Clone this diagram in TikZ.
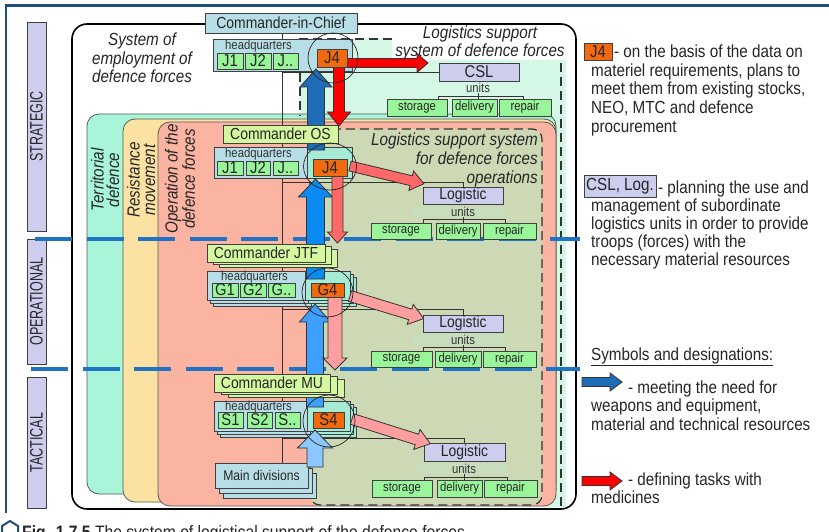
\documentclass[tikz,border=0pt]{standalone}
\usepackage{fontspec}
\setmainfont[FakeStretch=0.87]{Liberation Sans}
\usetikzlibrary{calc}
\definecolor{frameblue}{HTML}{1F4E79}
\definecolor{lvl}{HTML}{CDCDEE}
\definecolor{ltblue}{HTML}{B7DEE6}
\definecolor{jgreen}{HTML}{99F599}
\definecolor{orng}{HTML}{F26A10}
\definecolor{cmdgreen}{HTML}{D3F8A0}
\definecolor{palemint}{HTML}{D4F7E6}
\definecolor{terr}{HTML}{A8F5D9}
\definecolor{resist}{HTML}{FBE2A3}
\definecolor{oper}{HTML}{FBB4A2}
\definecolor{olivebg}{HTML}{CDD8B4}
\definecolor{unitstrip}{HTML}{C6DDBE}
\definecolor{hqmint}{HTML}{A6EBD6}
\definecolor{dashblue}{HTML}{1F72C4}
\definecolor{arA}{HTML}{1F6DB6}
\definecolor{arB}{HTML}{0B8AF2}
\definecolor{arC}{HTML}{3DA0FF}
\definecolor{arD}{HTML}{8AC8FF}
\definecolor{rdA}{HTML}{FF0000}
\definecolor{rdB}{HTML}{FF6868}
\definecolor{rdC}{HTML}{FF9E9E}
\newcommand\fsz[2]{\fontsize{#1}{#2}\selectfont}
\newcommand\mybox[7]{\node[bx,#2,minimum width={(#5)-(#3)},minimum height={(#6)-(#4)}] (#1) at ({((#3)+(#5))/2},{((#4)+(#6))/2}) {#7};}
\newcommand\mystack[9]{%
 \mybox{#1b}{#2}{#3+2*#8}{#4+2*#9}{#5+2*#8}{#6+2*#9}{}%
 \mybox{#1a}{#2}{#3+#8}{#4+#9}{#5+#8}{#6+#9}{}%
 \mybox{#1}{#2}{#3}{#4}{#5}{#6}{#7}}
\newcommand\blockarr[7]{%
 \begin{scope}[shift={#2},rotate=#3]
 \filldraw[#1] (0,-#5) -- ({#4-#7},-#5) -- ({#4-#7},-#6) -- (#4,0) -- ({#4-#7},#6) -- ({#4-#7},#5) -- (0,#5) -- cycle;
 \end{scope}}
\tikzset{
 bx/.style={draw=black!75, line width=0.7pt, inner sep=0pt, outer sep=0pt, text=black!85},
 cmd/.style={bx, fill=cmdgreen, font=\fsz{16}{16}},
 hqb/.style={bx, fill=ltblue},
 hqm/.style={bx, fill=hqmint},
 jb/.style={bx, fill=jgreen, font=\fsz{17}{17}},
 jf/.style={bx, fill=orng, font=\fsz{17}{17}},
 ub/.style={bx, fill=jgreen, font=\fsz{13}{13}},
 lg/.style={bx, fill=lvl, font=\fsz{16}{16}},
 lvbox/.style={bx, fill=lvl},
 lvtxt/.style={rotate=90, font=\fsz{18}{18}, text=black!85},
 panel/.style={draw=black!65, line width=0.8pt, rounded corners=12pt},
 ptxt/.style={rotate=90, font=\itshape\fsz{17.5}{15.5}, align=center, text=black!85, inner sep=0pt},
 itx/.style={font=\itshape\fsz{17.5}{18}, anchor=base, inner sep=0pt, text=black!85},
 itxr/.style={font=\itshape\fsz{17.5}{18}, anchor=base east, inner sep=0pt, text=black!85},
 lgnd/.style={anchor=base west, inner sep=0pt, font=\fsz{17.5}{18}, text=black!85},
 hqt/.style={anchor=base west, inner sep=0pt, font=\fsz{13}{13}, text=black!80},
 untx/.style={inner sep=0pt, font=\fsz{13}{13}, text=black!80},
 org/.style={draw=black!80, line width=0.8pt},
 lsdash/.style={draw=black!80, line width=1.2pt, dash pattern=on 9pt off 5pt},
 lvdash/.style={draw=dashblue, line width=4pt, dash pattern=on 37pt off 14.5pt},
 arr/.style={draw=black!80, line width=0.8pt},
 circ/.style={draw=black!85, line width=0.7pt},
}
\begin{document}
\begin{tikzpicture}[x=1pt,y=-1pt]
\clip (0,0) rectangle (829,532);
\fill[white] (0,0) rectangle (829,532);
% outer frame
\draw[frameblue, line width=2.5pt] (6,513) -- (6,5.5) -- (830,5.5);
% level labels
\mybox{lvS}{lvbox}{27}{22}{46}{231}{}
\mybox{lvO}{lvbox}{27}{239}{46}{364}{}
\mybox{lvT}{lvbox}{27}{377}{46}{508}{}
\node[lvtxt] (tS) at (lvS.center) {\scalebox{0.8}[1]{STRATEGIC}};
\node[lvtxt] (tO) at (lvO.center) {\scalebox{0.8}[1]{OPERATIONAL}};
\node[lvtxt] (tT) at (lvT.center) {\scalebox{0.8}[1]{TACTICAL}};
% big system rectangle
\draw[black, line width=1.6pt, fill=white, rounded corners=15pt] (72,24) rectangle (576,509);
% logistics support system (pale mint)
\fill[palemint] (300,39) -- (392,39) -- (392,60) -- (566,60) -- (566,507) -- (300,507) -- cycle;
% panels
\filldraw[panel, fill=terr] (87,114) rectangle (556,494);
\filldraw[panel, fill=resist] (123,119) rectangle (556,502);
\filldraw[panel, fill=oper] (158,122) rectangle (556,506);
% olive region
\fill[olivebg, rounded corners=10pt] (310,129) rectangle (542,505);
\draw[lsdash, rounded corners=10pt] (310,129) rectangle (542,505);
\draw[lsdash] (392,39) -- (300,39) -- (300,116);
\draw[lsdash] (561,63) -- (561,507);
% texts of regions
\node[itx] (s1) at (142,46) {System of};
\node[itx] (s2) at (142,64.5) {employment of};
\node[itx] (s3) at (142,83) {defence forces};
\node[itx] (l1) at (480,38.5) {Logistics support};
\node[itx] (l2) at (480,57) {system of defence forces};
\node[itxr] (o1) at (538,146) {Logistics support system};
\node[itxr] (o2) at (538,164.5) {for defence forces};
\node[itxr] (o3) at (538,183) {operations};
\node[ptxt] (pT) at (105,180) {Territorial\\defence};
\node[ptxt] (pR) at (141,180) {Resistance\\movement};
\node[ptxt] (pO) at (180,179) {Operation of the\\defence forces};
% level dashed lines
\draw[lvdash] (35,239) -- (580,239);
\draw[lvdash] (31,369) -- (580,369);
% org vertical line and connectors
\coordinate (vtop) at (282,33);
\coordinate (vbot) at (282,463);
\draw[org] (vtop) -- (vbot);
% strategic logistics
\mybox{csl}{lg}{439}{63}{519}{81}{\fsz{17}{17}CSL}
\draw[org] (282,72) -- (csl.west);
\node[untx] (u0) at (478,87.5) {units};
\draw[org] (478,93) -- (478,99) (438,99) -- (438,96) -- (523,96) -- (523,99);
\mybox{st0}{ub}{387}{99}{447}{116}{storage}
\mybox{de0}{ub}{452}{99}{497}{116}{delivery}
\mybox{re0}{ub}{499}{99}{551}{116}{repair}
% OS logistics
\mybox{log1}{lg}{423}{187}{503}{204}{Logistic}
\draw[org] (282,182) -| (log1.north);
\fill[unitstrip] (413,207) rectangle (505,217);
\node[untx] (u1) at (463,212) {units};
\draw[org] (463,217) -- (463,223) (423,223) -- (423,219) -- (505,219) -- (505,223);
\mybox{st1}{ub}{371}{223}{431}{239}{storage}
\mybox{de1}{ub}{436}{223}{480}{239}{delivery}
\mybox{re1}{ub}{483}{223}{536}{239}{repair}
% JTF logistics
\mybox{log2}{lg}{423}{315}{503}{332}{Logistic}
\draw[org] (282,309) -| (log2.north);
\fill[unitstrip] (413,334) rectangle (505,345);
\node[untx] (u2) at (463,339.5) {units};
\draw[org] (463,345) -- (463,351) (423,351) -- (423,347) -- (505,347) -- (505,351);
\mybox{st2}{ub}{371}{351}{432}{367}{storage}
\mybox{de2}{ub}{435}{351}{481}{367}{delivery}
\mybox{re2}{ub}{483}{351}{536}{367}{repair}
% MU logistics
\mybox{log3}{lg}{424}{443}{505}{461}{Logistic}
\draw[org] (282,438) -| (log3.north);
\fill[unitstrip] (415,463) rectangle (507,474);
\node[untx] (u3) at (464,468.5) {units};
\draw[org] (464,474) -- (464,480) (424,480) -- (424,477) -- (507,477) -- (507,480);
\mybox{st3}{ub}{372}{480}{432}{497}{storage}
\mybox{de3}{ub}{437}{480}{482}{497}{delivery}
\mybox{re3}{ub}{484}{480}{537}{497}{repair}
% ---------- strategic level
\mybox{cinc}{bx,fill=ltblue,font=\fsz{16}{16}}{205}{13}{357}{33}{Commander-in-Chief}
\mybox{hq0}{hqb}{213}{39}{352}{71}{}
\node[hqt] (h0) at (225,50) {headquarters};
\mybox{j01}{jb}{217}{53}{243}{69}{J1}
\mybox{j02}{jb}{245}{53}{271}{69}{J2}
\mybox{j03}{jb}{273}{53}{298}{69}{J..}
% ---------- OS level hq
\mybox{hq1}{hqb}{214}{147}{352}{178}{}
\mybox{hq1m}{hqm}{307}{147}{352}{178}{}
\node[hqt] (h1) at (225,157.5) {headquarters};
\mybox{j11}{jb}{217}{161}{243}{175}{J1}
\mybox{j12}{jb}{246}{161}{270}{175}{J2}
\mybox{j13}{jb}{273}{161}{298}{175}{J..}
% arrows strategic
\blockarr{arr,fill=arA}{(316,150)}{90}{81}{8.5}{16}{18}
\blockarr{arr,fill=rdA}{(339,63)}{-90}{63}{5.5}{11.5}{14}
\blockarr{arr,fill=rdA}{(345,63)}{0}{83}{4.5}{9.5}{11}
\mybox{j04}{jf}{317}{49}{347}{67}{J4}
\mybox{cmdOS}{cmd}{223}{125}{338}{143}{Commander OS}
% ---------- JTF level hq
\mystack{hq2}{hqb}{207}{271}{350}{300}{}{3}{3}
\mystack{hq2m}{hqm}{305}{271}{350}{300}{}{3}{3}
\node[hqt] (h2) at (221,280.5) {headquarters};
\mybox{g21}{jb}{212}{283}{238}{297}{G1}
\mybox{g22}{jb}{240}{283}{266}{297}{G2}
\mybox{g23}{jb}{268}{283}{295}{297}{G..}
\blockarr{arr,fill=arB}{(315.5,279)}{90}{100}{9}{17}{18}
\blockarr{arr,fill=rdB}{(337.5,176)}{-90}{67}{5.5}{10}{11}
\blockarr{arr,fill=rdB}{(350,166)}{-13.5}{76}{5}{10}{13}
\mybox{j14}{jf}{313}{159}{347}{176}{J4}
\mystack{cmdJTF}{cmd}{207}{244}{325}{262}{Commander JTF}{6}{2.5}
% ---------- MU level hq
\mystack{hq3}{hqb}{214}{401}{350}{431}{}{3}{3}
\mystack{hq3m}{hqm}{307}{401}{350}{431}{}{3}{3}
\node[hqt] (h3) at (225,410.5) {headquarters};
\mybox{s31}{jb}{218}{412}{243}{428}{S1}
\mybox{s32}{jb}{247}{412}{272}{428}{S2}
\mybox{s33}{jb}{275}{412}{300}{428}{S..}
\blockarr{arr,fill=arC}{(315,407)}{90}{103}{8.5}{15.5}{18}
\blockarr{arr,fill=rdC}{(335,297)}{-90}{73}{7}{12}{12}
\blockarr{arr,fill=rdC}{(350,296)}{-17}{77}{5.5}{10.5}{14}
\mybox{g24}{jf}{311}{283}{344}{297}{G4}
\mystack{cmdMU}{cmd}{214}{374}{330}{392}{Commander MU}{7}{2.5}
% ---------- main divisions
\mystack{mdiv}{hqb,font=\fsz{14}{14}}{215}{463}{308}{488}{Main divisions}{4}{5}
\blockarr{arr,fill=arD}{(315,467)}{90}{37}{8}{17.5}{18}
\blockarr{arr,fill=rdC}{(352,419)}{-17.5}{82}{5.5}{10.5}{14}
\mybox{s34}{jf}{313}{412}{344}{428}{S4}
% circles
\draw[circ] (333,58) ellipse [x radius=25pt, y radius=25pt];
\draw[circ] (330,166.5) ellipse [x radius=26.5pt, y radius=23.5pt];
\draw[circ] (327.5,292.5) ellipse [x radius=25.5pt, y radius=24.5pt];
\draw[circ] (329,421) ellipse [x radius=26pt, y radius=26pt];
% ---------- legend
\mybox{lgJ4}{jf}{584}{43}{612}{60}{J4}
\node[lgnd] (t11) at (614,58) {- on the basis of the data on};
\node[lgnd] (t12) at (591,76.5) {materiel requirements, plans to};
\node[lgnd] (t13) at (591,95) {meet them from existing stocks,};
\node[lgnd] (t14) at (591,113.5) {NEO, MTC and defence};
\node[lgnd] (t15) at (591,132) {procurement};
\mybox{lgCSL}{lg,font=\fsz{17.5}{17.5}}{584}{175}{656}{197}{CSL, Log.}
\node[lgnd] (t21) at (658,193) {- planning the use and};
\node[lgnd] (t22) at (591,211.2) {management of subordinate};
\node[lgnd] (t23) at (591,229.4) {logistics units in order to provide};
\node[lgnd] (t24) at (591,247.6) {troops (forces) with the};
\node[lgnd] (t25) at (591,265.8) {necessary material resources};
\node[lgnd] (t31) at (591,360) {\underline{Symbols and designations:}};
\blockarr{arr,fill=arA}{(582,382)}{0}{40}{4.5}{9}{12}
\node[lgnd] (t41) at (628,393) {- meeting the need for};
\node[lgnd] (t42) at (591,411.5) {weapons and equipment,};
\node[lgnd] (t43) at (591,430) {material and technical resources};
\blockarr{arr,fill=rdA}{(582,481)}{0}{40}{4.5}{9}{12}
\node[lgnd] (t51) at (628,485) {- defining tasks with};
\node[lgnd] (t52) at (591,503.5) {medicines};
% caption (cut off by the image edge)
\draw[frameblue, line width=2pt] (2,533) -- (2,526) -- (10,521) -- (18,526) -- (18,533);
\node[anchor=base west, inner sep=0pt, font=\fsz{18}{18}, text=black!85] (cap) at (22,538) {\textbf{Fig. 1.7.5} The system of logistical support of the defence forces};
\end{tikzpicture}
\end{document}
